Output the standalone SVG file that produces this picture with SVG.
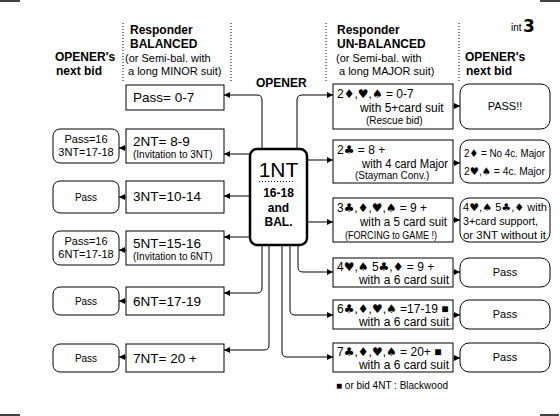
<svg xmlns="http://www.w3.org/2000/svg" width="560" height="416" viewBox="0 0 560 416">
<defs>
<marker id="ah" markerWidth="6" markerHeight="6" refX="6" refY="3" orient="auto" markerUnits="userSpaceOnUse">
<path d="M0,0 L6,3 L0,6 z" fill="#000"/>
</marker>
<style>
.box{fill:#fff;stroke:#000;stroke-width:1}
.rbox{fill:#fff;stroke:#000;stroke-width:1}
.c{fill:none;stroke:#000;stroke-width:1;marker-end:url(#ah)}
.t{font-family:"Liberation Sans","DejaVu Sans",sans-serif;font-size:13.5px;fill:#000}
.r{font-family:"Liberation Sans","DejaVu Sans",sans-serif;font-size:12px;fill:#000}
.s{font-family:"Liberation Sans","DejaVu Sans",sans-serif;font-size:11px;fill:#000}
.o{font-family:"Liberation Sans","DejaVu Sans",sans-serif;font-size:10.5px;fill:#000}
.xs{font-family:"Liberation Sans","DejaVu Sans",sans-serif;font-size:10px;fill:#000}
.h{font-family:"Liberation Sans","DejaVu Sans",sans-serif;font-size:12px;font-weight:bold;fill:#000}
.dot{stroke:#000;stroke-width:1;stroke-dasharray:1,2}
.m{text-anchor:middle}
.su{font-family:"DejaVu Sans",sans-serif}
</style>
</defs>
<rect width="560" height="416" fill="#fff"/>
<g id="corners" stroke="#000" stroke-width="1.5">
<line x1="0" y1="1" x2="20" y2="1"/><line x1="540" y1="1" x2="560" y2="1"/>
<line x1="0" y1="415" x2="20" y2="415"/><line x1="540" y1="415" x2="559" y2="415"/>
</g>
<g id="page-label">
<text x="511" y="31" class="xs">int</text>
<text x="523" y="32" font-family="DejaVu Sans,sans-serif" font-size="17" font-weight="bold">3</text>
</g>
<g id="headers">
<line x1="123" y1="23" x2="123" y2="82" class="dot"/>
<line x1="231" y1="23" x2="231" y2="82" class="dot"/>
<line x1="326" y1="23" x2="326" y2="82" class="dot"/>
<line x1="459" y1="23" x2="459" y2="82" class="dot"/>
<text x="130" y="34" class="h" font-size="12.5">Responder</text>
<text x="130" y="48" class="h">BALANCED</text>
<text x="125" y="62" class="s">(or Semi-bal. with</text>
<text x="128" y="75" class="s">a long MINOR suit)</text>
<text x="55" y="61" class="h">OPENER's</text>
<text x="56" y="75" class="h" font-size="12.5">next bid</text>
<text x="256" y="87" class="h">OPENER</text>
<text x="337" y="34" class="h" font-size="12.5">Responder</text>
<text x="337" y="48" class="h">UN-BALANCED</text>
<text x="336" y="62" class="s">(or Semi-bal. with</text>
<text x="339" y="75" class="s">a long MAJOR suit)</text>
<text x="465" y="61" class="h">OPENER's</text>
<text x="466" y="75" class="h" font-size="12.5">next bid</text>
</g>
<g id="connectors">
<path class="c" d="M262,149 V100 Q262,95 257,95 H224"/>
<path class="c" d="M297,149 V100 Q297,95 302,95 H333"/>
<path class="c" d="M250,154 H224"/>
<path class="c" d="M250,196 H224"/>
<path class="c" d="M250,237 H224"/>
<path class="c" d="M262,245 V288 Q262,293 257,293 H224"/>
<path class="c" d="M269,245 V345 Q269,350 264,350 H224"/>
<path class="c" d="M307,160 H333"/>
<path class="c" d="M307,222 H333"/>
<path class="c" d="M298,245 V267 Q298,272 303,272 H333"/>
<path class="c" d="M290,245 V310 Q290,315 295,315 H333"/>
<path class="c" d="M282,245 V352 Q282,357 287,357 H333"/>
<path class="c" d="M126,148 H119"/>
<path class="c" d="M126,197 H119"/>
<path class="c" d="M126,250 H119"/>
<path class="c" d="M126,301 H119"/>
<path class="c" d="M126,357 H119"/>
<path class="c" d="M453,106 H460"/>
<path class="c" d="M453,163 H460"/>
<path class="c" d="M453,220 H460"/>
<path class="c" d="M453,272 H460"/>
<path class="c" d="M453,315 H460"/>
<path class="c" d="M453,358 H460"/>
</g>
<g id="n-1nt">
<rect x="250" y="149" width="57" height="96" rx="7" fill="#fff" stroke="#000" stroke-width="2.5"/>
<text x="278.5" y="177" class="m" font-family="Liberation Sans,sans-serif" font-size="21">1NT</text>
<line x1="259" y1="181.5" x2="293" y2="181.5" class="dot"/>
<text x="278.5" y="197" class="h m" font-size="13">16-18</text>
<text x="278.5" y="212" class="h m" font-size="13">and</text>
<text x="278.5" y="226" class="h m" font-size="13">BAL.</text>
</g>
<g id="n-pass07"><rect x="126" y="85" width="98" height="25" class="box"/><text x="133" y="102" class="t">Pass= 0-7</text></g>
<g id="n-2nt"><rect x="126" y="129" width="98" height="34" class="box"/><text x="133" y="146" class="t">2NT= 8-9</text><text x="133" y="158" class="xs">(Invitation to 3NT)</text></g>
<g id="n-3nt"><rect x="126" y="181" width="98" height="32" class="box"/><text x="133" y="201" class="t">3NT=10-14</text></g>
<g id="n-5nt"><rect x="126" y="231" width="98" height="34" class="box"/><text x="133" y="248" class="t">5NT=15-16</text><text x="133" y="260" class="xs">(Invitation to 6NT)</text></g>
<g id="n-6nt"><rect x="126" y="287" width="98" height="28" class="box"/><text x="133" y="306" class="t">6NT=17-19</text></g>
<g id="n-7nt"><rect x="126" y="344" width="98" height="28" class="box"/><text x="133" y="363" class="t">7NT= 20 +</text></g>
<g id="o-2nt"><rect x="53" y="129" width="66" height="34" rx="7" class="rbox"/><text x="86" y="143" class="s m">Pass=16</text><text x="86" y="156" class="s m">3NT=17-18</text></g>
<g id="o-3nt"><rect x="53" y="181" width="66" height="32" rx="7" class="rbox"/><text x="86" y="201" class="xs m">Pass</text></g>
<g id="o-5nt"><rect x="53" y="231" width="66" height="34" rx="7" class="rbox"/><text x="86" y="245" class="s m">Pass=16</text><text x="86" y="258" class="s m">6NT=17-18</text></g>
<g id="o-6nt"><rect x="53" y="287" width="66" height="28" rx="7" class="rbox"/><text x="86" y="305" class="xs m">Pass</text></g>
<g id="o-7nt"><rect x="53" y="344" width="66" height="28" rx="7" class="rbox"/><text x="86" y="362" class="xs m">Pass</text></g>
<g id="n-2d"><rect x="333" y="84" width="120" height="45" class="box"/><text x="337" y="98" class="r">2<tspan class="su">♦</tspan>,<tspan class="su">♥</tspan>,<tspan class="su">♠</tspan> = 0-7</text><text x="360" y="112" class="r">with 5+card suit</text><text x="366" y="124" class="xs">(Rescue bid)</text></g>
<g id="n-2c"><rect x="333" y="140" width="120" height="43" class="box"/><text x="337" y="154" class="r">2<tspan class="su">♣</tspan> = 8 +</text><text x="362" y="168" class="r" textLength="86" lengthAdjust="spacingAndGlyphs">with 4 card Major</text><text x="355" y="179" class="xs">(Stayman Conv.)</text></g>
<g id="n-3c"><rect x="333" y="198" width="120" height="44" class="box"/><text x="337" y="212" class="r" textLength="90" lengthAdjust="spacingAndGlyphs">3<tspan class="su">♣</tspan>,<tspan class="su">♦</tspan>,<tspan class="su">♥</tspan>,<tspan class="su">♠</tspan> = 9 +</text><text x="360" y="226" class="r" textLength="87" lengthAdjust="spacingAndGlyphs">with a 5 card suit</text><text x="345" y="239" class="xs" textLength="92" lengthAdjust="spacingAndGlyphs">(FORCING to GAME !)</text></g>
<g id="n-4h"><rect x="333" y="258" width="120" height="29" class="box"/><text x="337" y="271" class="r">4<tspan class="su">♥</tspan>,<tspan class="su">♠</tspan> 5<tspan class="su">♣</tspan>,<tspan class="su">♦</tspan> = 9 +</text><text x="449" y="284" class="r" text-anchor="end">with a 6 card suit</text></g>
<g id="n-6c"><rect x="333" y="300" width="120" height="29" class="box"/><text x="337" y="313" class="r">6<tspan class="su">♣</tspan>,<tspan class="su">♦</tspan>,<tspan class="su">♥</tspan>,<tspan class="su">♠</tspan> =17-19 ■</text><text x="449" y="326" class="r" text-anchor="end">with a 6 card suit</text></g>
<g id="n-7c"><rect x="333" y="343" width="120" height="29" class="box"/><text x="337" y="356" class="r">7<tspan class="su">♣</tspan>,<tspan class="su">♦</tspan>,<tspan class="su">♥</tspan>,<tspan class="su">♠</tspan> = 20+ ■</text><text x="449" y="369" class="r" text-anchor="end">with a 6 card suit</text></g>
<g id="o-2d"><rect x="460" y="84" width="90" height="45" rx="9" class="rbox"/><text x="505" y="110" class="s m">PASS!!</text></g>
<g id="o-2c"><rect x="460" y="140" width="90" height="43" rx="9" class="rbox"/><text x="464" y="157" class="o" textLength="81" lengthAdjust="spacingAndGlyphs">2<tspan class="su">♦</tspan> = No 4c. Major</text><text x="464" y="175" class="o" textLength="81" lengthAdjust="spacingAndGlyphs">2<tspan class="su">♥</tspan>,<tspan class="su">♠</tspan> = 4c. Major</text></g>
<g id="o-3c"><rect x="460" y="198" width="90" height="44" rx="9" class="rbox"/><text x="463" y="211" class="o" textLength="84" lengthAdjust="spacingAndGlyphs">4<tspan class="su">♥</tspan>,<tspan class="su">♠</tspan> 5<tspan class="su">♣</tspan>,<tspan class="su">♦</tspan> with</text><text x="463" y="225" class="o" textLength="75" lengthAdjust="spacingAndGlyphs">3+card support,</text><text x="463" y="239" class="o" textLength="83" lengthAdjust="spacingAndGlyphs">or 3NT without it</text></g>
<g id="o-4h"><rect x="460" y="258" width="90" height="29" rx="9" class="rbox"/><text x="505" y="276" class="s m">Pass</text></g>
<g id="o-6c"><rect x="460" y="300" width="90" height="29" rx="9" class="rbox"/><text x="505" y="318" class="s m">Pass</text></g>
<g id="o-7c"><rect x="460" y="343" width="90" height="29" rx="9" class="rbox"/><text x="505" y="361" class="s m">Pass</text></g>
<g id="footnote"><text x="336" y="389" class="xs">■ or bid 4NT : Blackwood</text></g>
</svg>
